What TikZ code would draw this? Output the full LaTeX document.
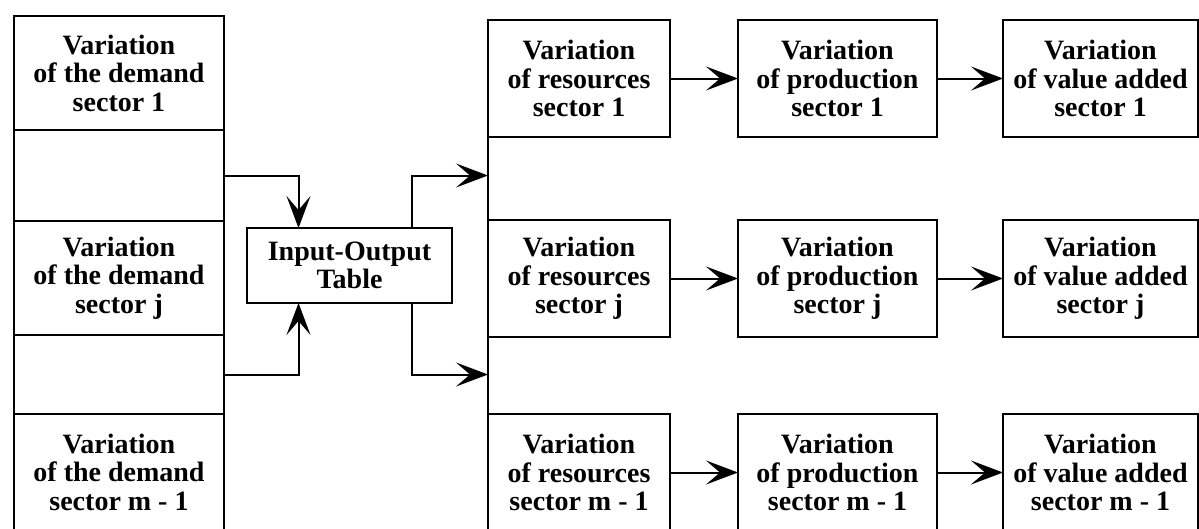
\documentclass[tikz,border=0pt]{standalone}
\usepackage{fontspec}
\setmainfont{Liberation Serif}
\usepackage{tikz}
\usetikzlibrary{positioning}
\usetikzlibrary{arrows.meta}

\begin{document}
\begin{tikzpicture}[x=1pt, y=-1pt,
            block/.style={draw=black, line width=2pt, rectangle, align=center, inner sep=0pt,
            outer sep=0pt, font=\bfseries\fontsize{28}{28.5}\selectfont},
            demand/.style={block, minimum width=210pt, minimum height=114pt},
            res/.style={block, minimum width=182pt, minimum height=117pt},
            prod/.style={block, minimum width=199pt, minimum height=117pt},
            added/.style={block, minimum width=195pt, minimum height=117pt},
            flow/.style={line width=2pt, -{Stealth[length=32pt, width=24pt, inset=14pt]}}]
            \useasboundingbox[fill=white] (0,0) rectangle (1199,528);

            % demand stack
            \node[demand, anchor=north west] (dem1) at (14,16) {Variation\\of the demand\\sector 1};
            \node[demand, minimum height=91pt, below=0pt of dem1] (gap1) {};
            \node[demand, below=0pt of gap1] (demj) {Variation\\of the demand\\sector j};
            \node[demand, minimum height=79pt, below=0pt of demj] (gap2) {};
            \node[demand, minimum height=116pt, below=0pt of gap2] (demm) {Variation\\of the demand\\sector m - 1};

            \node[block, minimum width=205pt, minimum height=75pt, anchor=north west] (io) at (247,228) {Input-Output\\Table};

            % sector rows
            \node[res, anchor=north west] (res1) at (488,20) {Variation\\of resources\\sector 1};
            \node[res, below=83pt of res1] (resj) {Variation\\of resources\\sector j};
            \node[res, below=77pt of resj] (resm) {Variation\\of resources\\sector m - 1};
            \node[prod, right=68pt of res1] (prod1) {Variation\\of production\\sector 1};
            \node[prod, right=68pt of resj] (prodj) {Variation\\of production\\sector j};
            \node[prod, right=68pt of resm] (prodm) {Variation\\of production\\sector m - 1};
            \node[added, right=66pt of prod1] (va1) {Variation\\of value added\\sector 1};
            \node[added, right=66pt of prodj] (vaj) {Variation\\of value added\\sector j};
            \node[added, right=66pt of prodm] (vam) {Variation\\of value added\\sector m - 1};

            \draw[line width=2pt] (res1.north west) -- (resm.south west);
            \coordinate (busa) at (res1.west |- gap1.east);
            \coordinate (busb) at (res1.west |- gap2.east);

            \draw[flow] (gap1.east) -| ([xshift=-51pt]io.north);
            \draw[flow] (gap2.east) -| ([xshift=-51pt]io.south);
            \draw[flow] ([xshift=62pt]io.north) |- (busa);
            \draw[flow] ([xshift=62pt]io.south) |- (busb);

            \draw[flow] (res1) -- (prod1);
            \draw[flow] (resj) -- (prodj);
            \draw[flow] (resm) -- (prodm);
            \draw[flow] (prod1) -- (va1);
            \draw[flow] (prodj) -- (vaj);
            \draw[flow] (prodm) -- (vam);
        \end{tikzpicture}
\end{document}
